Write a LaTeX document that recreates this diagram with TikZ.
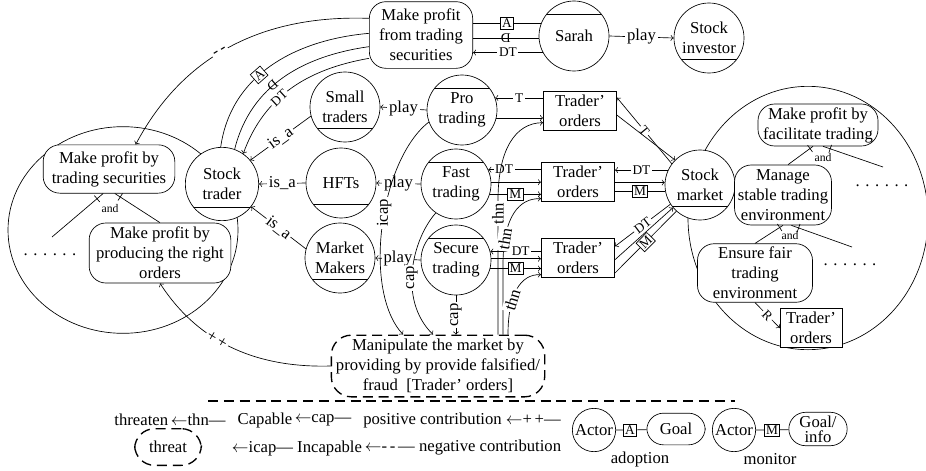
\documentclass[tikz,border=0pt]{standalone}
\usepackage{fontspec}
\setmainfont{Liberation Serif}
\usepackage{graphicx}
\usepackage{tikz}

\begin{document}
\begin{tikzpicture}[x=0.6pt, y=-0.6pt, font=\fontsize{10}{12}\selectfont,
                    actor/.style={circle, draw, fill=white, minimum size=42pt, inner sep=0pt, align=center},
                    agent/.style={actor, path picture={\draw ([yshift=-8pt]path picture bounding box.north west) -- ([yshift=-8pt]path picture bounding box.north east);}},
                    role/.style={actor, path picture={\draw ([yshift=8pt]path picture bounding box.south west) -- ([yshift=8pt]path picture bounding box.south east);}},
                    goal/.style={draw, fill=white, rounded corners=10pt, align=center, inner sep=2pt},
                    res/.style={draw, fill=white, align=center, inner sep=2pt},
                    lbl/.style={fill=white, inner sep=1pt},
                    sm/.style={font=\fontsize{8}{9}\selectfont},
                    tag/.style={draw, fill=white, inner sep=1pt, sm},
                    andtick/.style={sloped, inner sep=0pt, pos=0.88},
                    threat/.style={goal, thick, dash pattern=on 6pt off 3.5pt, rounded corners=12pt}]
    \useasboundingbox (0,0) rectangle (926,470);
    % actor boundaries
    \draw (123,230) ellipse [x radius=69pt, y radius=62pt];
    \draw (808,218) ellipse [x radius=72pt, y radius=79pt];

    \node[goal, minimum width=62pt, minimum height=40pt] (mpts) at (421,35) {Make profit\\from trading\\securities};
    \node[agent] (sarah) at (574,36) {Sarah};
    \node[role] (investor) at (709,38) {Stock\\investor};
    \node[role, minimum size=44pt] (trader) at (222,184) {Stock\\trader};
    \node[role] (small) at (345,107) {Small\\traders};
    \node[agent] (pro) at (462,110) {Pro\\trading};
    \node[role] (hft) at (341,183) {HFTs};
    \node[agent] (fast) at (456,184) {Fast\\trading};
    \node[role] (maker) at (340,258) {Market\\Makers};
    \node[agent] (secure) at (456,260) {Secure\\trading};
    \node[res, minimum width=44pt, minimum height=23pt] (ord1) at (580,111) {Trader'\\orders};
    \node[res, minimum width=44pt, minimum height=23pt] (ord2) at (578,182) {Trader'\\orders};
    \node[res, minimum width=44pt, minimum height=23pt] (ord3) at (578,258) {Trader'\\orders};
    \node[role] (market) at (700,185) {Stock\\market};

    \node[goal, minimum width=79pt, minimum height=29pt] (g1) at (109,169) {Make profit by\\trading securities};
    \node[goal, minimum width=85pt, minimum height=36pt] (g2) at (160,253) {Make profit by\\producing the right\\orders};
    \node[goal, minimum width=72pt, minimum height=24pt] (g3) at (818,125) {Make profit by\\facilitate trading};
    \node[goal, minimum width=57pt, minimum height=36pt] (g4) at (783,195) {Manage\\stable trading\\environment};
    \node[goal, minimum width=69pt, minimum height=34pt] (g5) at (755,273) {Ensure fair\\trading\\environment};
    \node[res, minimum width=37pt, minimum height=22pt] (ord4) at (811,328) {Trader'\\orders};
    \node[threat, minimum width=128pt, minimum height=37pt] (manip) at (438,366) {Manipulate the market by\\providing by provide falsified/\\fraud~~[Trader' orders]};

    \coordinate (lfree) at (52,237);
    \coordinate (rfree1) at (883,167);
    \coordinate (rfree2) at (852,247);
    \node at (50,255) {.\,\,.\,\,.\,\,.\,\,.\,\,.};
    \node at (882,186) {.\,\,.\,\,.\,\,.\,\,.\,\,.};
    \node at (850,265) {.\,\,.\,\,.\,\,.\,\,.\,\,.};

    % and-decompositions
    \draw (lfree) -- node[andtick]{\rule[-2.5pt]{0.4pt}{5pt}} ([xshift=-3.5pt]g1.south);
    \draw (g2.north) -- node[andtick]{\rule[-2.5pt]{0.4pt}{5pt}} ([xshift=3.5pt]g1.south);
    \node[font=\scriptsize] at (110,209) {and};
    \draw ([xshift=3pt]g4.north) -- node[andtick]{\rule[-2.5pt]{0.4pt}{5pt}} ([xshift=-3pt]g3.south);
    \draw (rfree1) -- node[andtick]{\rule[-2.5pt]{0.4pt}{5pt}} ([xshift=3pt]g3.south);
    \node[font=\scriptsize] at (823,158) {and};
    \draw (g5.north) -- node[andtick]{\rule[-2.5pt]{0.4pt}{5pt}} (g4.south);
    \draw (rfree2) -- node[andtick]{\rule[-2.5pt]{0.4pt}{5pt}} ([xshift=5pt]g4.south);
    \node[font=\scriptsize] at (790,236) {and};
    \draw[->] (g5.south) -- node[lbl, sloped, sm]{R} (ord4.west);

    % top
    \draw[->] (sarah.east) -- node[lbl]{play} (investor.west);
    \draw (mpts.east |- sarah.159) -- node[tag]{A} (sarah.159);
    \draw (mpts.east |- sarah.183) -- node[sm]{\reflectbox{D}} (sarah.183);
    \draw[<-] (mpts.east |- sarah.208) -- node[lbl, sm]{DT} (sarah.208);
    \draw[->] ([yshift=10pt]mpts.west) to[out=178, in=62] node[lbl, sloped, pos=0.55]{-\,-} ([xshift=16pt]g1.north);
    \draw (trader.92) to[out=82, in=185] node[tag, sloped, pos=0.42]{A} ([yshift=1pt]mpts.west);
    \draw (trader.70) to[out=76, in=188] node[sm, sloped, pos=0.42]{\reflectbox{D}} ([yshift=-7pt]mpts.west);
    \draw[<-] (trader.55) to[out=70, in=190] node[lbl, sm, sloped, pos=0.4]{DT} ([yshift=-14pt]mpts.west);

    % is_a and play
    \draw[->] (small.195) -- node[lbl, sloped]{is\_a} (trader.40);
    \draw[->] (hft.west) -- node[lbl]{is\_a} (trader.east);
    \draw[->] (maker.165) -- node[lbl, sloped]{is\_a} (trader.-38);
    \draw[->] (pro.west) -- node[lbl]{play} (small.east);
    \draw[->] (fast.west) -- node[lbl]{play} (hft.east);
    \draw[->] (secure.west) -- node[lbl]{play} (maker.east);

    % trading and orders
    \draw[<-] (pro.20) -- node[lbl, sm]{T} (pro.20 -| ord1.west);
    \draw[->] (pro.-13) -- (pro.-13 -| ord1.west);
    \draw[<-] (fast.24) -- node[lbl, sm, pos=0.3]{DT} (fast.24 -| ord2.west);
    \draw[->] (fast.3) -- (fast.3 -| ord2.west);
    \draw[->] (fast.-17) -- node[tag]{M} (fast.-17 -| ord2.west);
    \draw[<-] (secure.14) -- node[lbl, sm, pos=0.6]{DT} (secure.14 -| ord3.west);
    \draw[->] (secure.2) -- (secure.2 -| ord3.west);
    \draw[->] (secure.-14) -- node[tag]{M} (secure.-14 -| ord3.west);

    % orders and market
    \draw[<-] ([yshift=8pt]ord1.east) -- node[lbl, sm, sloped]{T} (market.143);
    \draw[->] ([yshift=-2.5pt]ord1.east) -- (market.135);
    \draw[<-] (market.155 -| ord2.east) -- node[lbl, sm]{DT} (market.155);
    \draw[->] (market.176 -| ord2.east) -- (market.176);
    \draw (market.190 -| ord2.east) -- node[tag]{M} (market.190);
    \draw[<-] ([yshift=7pt]ord3.east) -- node[lbl, sm, sloped]{DT} (market.213);
    \draw[->] ([yshift=-1pt]ord3.east) -- (market.220);
    \draw ([yshift=-9pt]ord3.east) -- node[tag, sloped]{M} (market.228);

    % capable / threaten
    \draw[->] (pro.200) .. controls (380,160) and (362,290) .. node[lbl, rotate=90, pos=0.45]{icap} (manip.north -| 403,0);
    \draw[->] (fast.235) .. controls (412,240) and (398,300) .. node[lbl, rotate=90, pos=0.55]{cap} (manip.north -| 433,0);
    \draw[->] (secure.south) -- node[lbl, rotate=90]{cap} (manip.north -| secure.south);
    \draw[->] (manip.north -| 498,0) -- node[lbl, rotate=90, pos=0.9]{thn} (498,200) .. controls (498,150) and (515,123) .. ([yshift=-7pt]ord1.west);
    \draw[->] (manip.north -| 503,0) -- (503,265) .. controls (503,215) and (520,198) .. node[lbl, sloped, pos=0.2]{thn} ([yshift=-10pt]ord2.west);
    \draw[->] (manip.north -| 508,0) .. controls (508,295) and (520,274) .. node[lbl, sloped, pos=0.35]{thn} ([yshift=-10pt]ord3.west);
    \draw[->] (manip.west) .. controls (260,368) and (200,345) .. node[lbl, sloped, pos=0.6]{+\,+} (g2.south);

    % legend
    \draw[thick, dash pattern=on 6pt off 3.5pt] (208,401) -- (735,401);
    \node (lthn) at (170,420) {threaten\,$\leftarrow$thn---};
    \node (lcapable) at (265,420) {Capable};
    \node (lcap) at (323,420) {$\leftarrow$cap---};
    \node (lpos) at (462,420) {positive contribution $\leftarrow$+\,+---};
    \node[threat, minimum width=40pt, minimum height=22pt] (lthreat) at (168,447) {threat};
    \node (licap) at (297,448) {$\leftarrow$icap--- Incapable};
    \node (lneg) at (463,448) {$\leftarrow$-\,-\,--- negative contribution};
    \node[actor, minimum size=26pt] (lact1) at (594,430) {Actor};
    \node[tag] (lA) at (630,430) {A};
    \node[goal, minimum width=35pt, minimum height=19pt] (lgoal1) at (676,429) {Goal};
    \draw (lact1) -- (lA) -- (lgoal1);
    \node (ladopt) at (640,459) {adoption};
    \node[actor, minimum size=26pt] (lact2) at (734,430) {Actor};
    \node[tag] (lM) at (772,430) {M};
    \node[goal, minimum width=35pt, minimum height=19pt, font=\fontsize{10}{9}\selectfont] (lgoal2) at (818,429) {Goal/\\info};
    \draw (lact2) -- (lM) -- (lgoal2);
    \node (lmon) at (770,459) {monitor};
\end{tikzpicture}
\end{document}
